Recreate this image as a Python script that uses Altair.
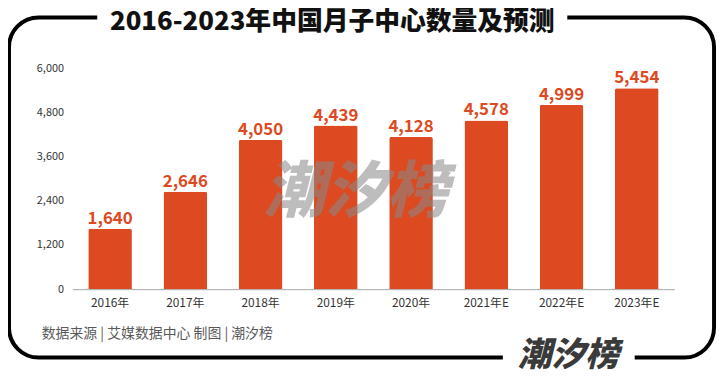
import altair as alt
import pandas as pd

years = ["2016年", "2017年", "2018年", "2019年", "2020年", "2021年E", "2022年E", "2023年E"]
counts = [1640, 2646, 4050, 4439, 4128, 4578, 4999, 5454]
y_ticks = [0, 1200, 2400, 3600, 4800, 6000]

title_text = "2016-2023年中国月子中心数量及预测"
source_text = "数据来源 | 艾媒数据中心 制图 | 潮汐榜"
brand_text = "潮汐榜"

FONT = "Noto Sans CJK SC"
BAR = "#DD4A22"

df = pd.DataFrame({"year": years, "count": counts})
one = pd.DataFrame({"a": [0]})

xenc = alt.X("year:N", sort=years, title=None,
             scale=alt.Scale(paddingInner=0.42, paddingOuter=0.21),
             axis=alt.Axis(labelAngle=0, labelFontSize=12, labelColor="#333333",
                           labelFont=FONT, labelPadding=8, ticks=False,
                           domainColor="#a6a6a6", domainWidth=1))
yenc = alt.Y("count:Q", title=None,
             scale=alt.Scale(domain=[0, 6000]),
             axis=alt.Axis(values=y_ticks, format=",d", grid=False, ticks=False,
                           domain=False, labelFontSize=11, labelColor="#333333",
                           labelFont=FONT, labelPadding=9))

base = alt.Chart(df)
bars = base.mark_bar(color=BAR, cornerRadiusTopLeft=2, cornerRadiusTopRight=2).encode(x=xenc, y=yenc)
labels = base.mark_text(color=BAR, fontSize=17, fontWeight="bold", font=FONT,
                        baseline="alphabetic", dy=-5).encode(
    x=alt.X("year:N", sort=years), y=alt.Y("count:Q"), text=alt.Text("count:Q", format=",d"))

# decorations
border = alt.Chart(one).mark_rect(fill="white", fillOpacity=0, stroke="black", strokeWidth=4,
                                  cornerRadius=30).encode(
    x=alt.value(-64), x2=alt.value(647), y=alt.value(-51), y2=alt.value(292))
gap_top = alt.Chart(one).mark_rect(fill="white").encode(
    x=alt.value(25), x2=alt.value(499), y=alt.value(-60), y2=alt.value(-43))
gap_bot = alt.Chart(one).mark_rect(fill="white").encode(
    x=alt.value(434), x2=alt.value(567), y=alt.value(284), y2=alt.value(300))
title = alt.Chart(one).mark_text(text=title_text, font=FONT, fontSize=26, fontWeight=900,
                                 color="#111111", align="center", baseline="alphabetic").encode(
    x=alt.value(262), y=alt.value(-38))
source = alt.Chart(one).mark_text(text=source_text, font=FONT, fontSize=14, color="#595959",
                                  align="left", baseline="middle").encode(
    x=alt.value(-31), y=alt.value(268))
brand = alt.Chart(one).mark_text(text=brand_text, font=FONT, fontSize=34, fontWeight=900,
                                 fontStyle="italic", color="#3a3a3a", align="center",
                                 baseline="middle").encode(
    x=alt.value(500), y=alt.value(290))
watermark = alt.Chart(one).mark_text(text=brand_text, font=FONT, fontSize=62, fontWeight=900,
                                     fontStyle="italic", color="#888888", opacity=0.55,
                                     align="center", baseline="middle").encode(
    x=alt.value(286), y=alt.value(126))

chart = alt.layer(border, gap_top, gap_bot, bars, labels, watermark, title, source, brand).properties(
    width=607, height=223,
    autosize=alt.AutoSizeParams(type="none"),
    padding={"left": 65, "top": 59, "right": 46, "bottom": 85},
).configure_view(stroke=None)

chart.save("out.html", embed_options={"renderer": "svg", "actions": False})
